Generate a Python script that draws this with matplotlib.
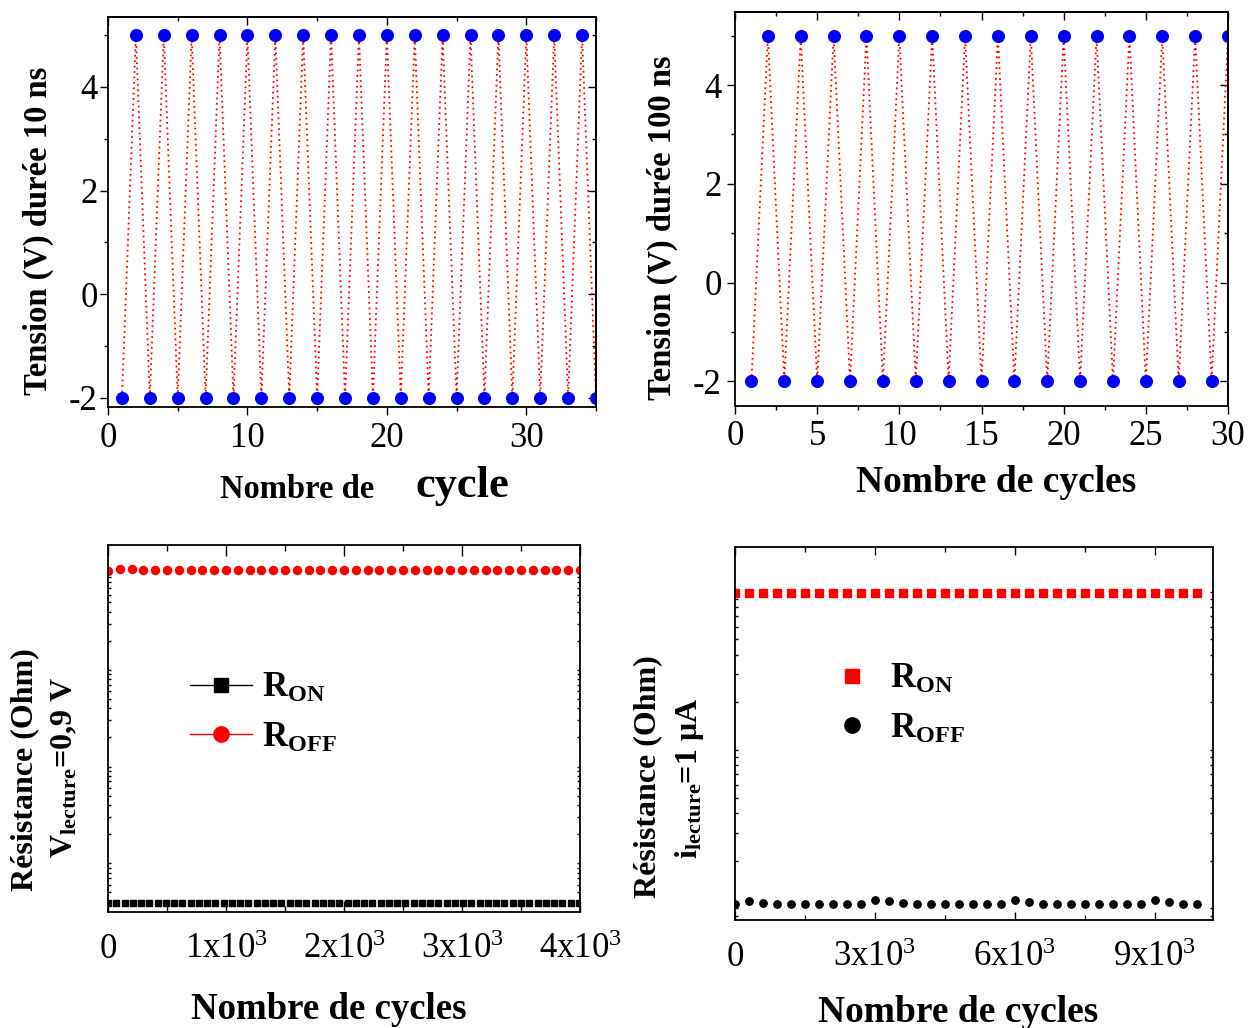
import numpy as np
import matplotlib
matplotlib.use("Agg")
import matplotlib.pyplot as plt
from matplotlib.lines import Line2D
from matplotlib.ticker import MultipleLocator, LogLocator, NullFormatter

plt.rcParams["font.family"] = ["Liberation Serif", "DejaVu Serif"]
plt.rcParams["mathtext.fontset"] = "custom"
plt.rcParams["mathtext.rm"] = "Liberation Serif"
plt.rcParams["mathtext.it"] = "Liberation Serif:italic"
plt.rcParams["mathtext.bf"] = "Liberation Serif:bold"
plt.rcParams["axes.unicode_minus"] = False

# --- data -------------------------------------------------------------
# pulse train, 10 ns pulses
cycles_10ns = list(range(1, 36))
tension_10ns = [-2, 5, -2, 5, -2, 5, -2, 5, -2, 5, -2, 5, -2, 5, -2, 5, -2, 5,
                -2, 5, -2, 5, -2, 5, -2, 5, -2, 5, -2, 5, -2, 5, -2, 5, -2]

# pulse train, 100 ns pulses
cycles_100ns = list(range(1, 31))
tension_100ns = [-2, 5, -2, 5, -2, 5, -2, 5, -2, 5, -2, 5, -2, 5, -2, 5, -2, 5,
                 -2, 5, -2, 5, -2, 5, -2, 5, -2, 5, -2, 5]

# endurance, read at 0.9 V
cycles_roff_v = np.arange(0, 4001, 100)
r_off_v = [1.04e6, 1.10e6, 1.10e6, 1.08e6, 1.07e6, 1.07e6, 1.07e6, 1.07e6,
           1.07e6, 1.07e6, 1.07e6, 1.07e6, 1.07e6, 1.07e6, 1.07e6, 1.07e6,
           1.07e6, 1.07e6, 1.07e6, 1.07e6, 1.07e6, 1.07e6, 1.07e6, 1.07e6,
           1.07e6, 1.07e6, 1.07e6, 1.07e6, 1.07e6, 1.07e6, 1.07e6, 1.07e6,
           1.07e6, 1.07e6, 1.07e6, 1.07e6, 1.07e6, 1.07e6, 1.07e6, 1.07e6,
           1.07e6]
cycles_ron_v = np.arange(0, 4000, 70)
r_on_v = [390, 390, 390, 390, 390, 390, 390, 390, 390, 390, 390, 390, 390,
          390, 390, 390, 390, 390, 390, 390, 390, 390, 390, 390, 390, 390,
          390, 390, 390, 390, 390, 390, 390, 390, 390, 390, 390, 390, 390,
          390, 390, 390, 390, 390, 390, 390, 390, 390, 390, 390, 390, 390,
          390, 390, 390, 390, 390, 390]

# endurance, read at 1 uA
cycles_i = np.arange(0, 10000, 300)
r_on_i = [9.8e4, 9.8e4, 9.8e4, 9.8e4, 9.8e4, 9.8e4, 9.8e4, 9.8e4, 9.8e4,
          9.8e4, 9.8e4, 9.8e4, 9.8e4, 9.8e4, 9.8e4, 9.8e4, 9.8e4, 9.8e4,
          9.8e4, 9.8e4, 9.8e4, 9.8e4, 9.8e4, 9.8e4, 9.8e4, 9.8e4, 9.8e4,
          9.8e4, 9.8e4, 9.8e4, 9.8e4, 9.8e4, 9.8e4, 9.8e4]
r_off_i = [1070, 1110, 1080, 1070, 1070, 1070, 1070, 1070, 1070, 1070,
           1135, 1110, 1080, 1070, 1070, 1070, 1070, 1070, 1070, 1070,
           1135, 1100, 1070, 1070, 1070, 1070, 1070, 1070, 1070, 1070,
           1135, 1100, 1070, 1070]

W, H = 1248, 1028


def box(l, t, r, b):
    return [l / W, 1 - b / H, (r - l) / W, (b - t) / H]


def px(x, y):
    return x / W, 1 - y / H


fig = plt.figure(figsize=(W / 100, H / 100), dpi=100)

TICK = 25
LW = 1.3


def style_top(ax, xmaj, xmin, ypad, xpad):
    for s in ax.spines.values():
        s.set_linewidth(LW)
    ax.xaxis.set_major_locator(MultipleLocator(xmaj))
    ax.xaxis.set_minor_locator(MultipleLocator(xmin))
    ax.yaxis.set_major_locator(MultipleLocator(2))
    ax.yaxis.set_minor_locator(MultipleLocator(1))
    ax.tick_params(which="both", direction="out", top=False, right=False,
                   labelsize=TICK, width=1.0)
    ax.tick_params(which="major", length=5.5)
    ax.tick_params(which="minor", length=3)
    ax.tick_params(axis="y", pad=ypad)
    ax.tick_params(axis="x", pad=xpad)
    # mirrored ticks pointing inward
    sx = ax.secondary_xaxis("top")
    sx.xaxis.set_major_locator(MultipleLocator(xmaj))
    sx.xaxis.set_minor_locator(MultipleLocator(xmin))
    sx.xaxis.set_major_formatter(NullFormatter())
    sx.tick_params(which="both", direction="in", width=1.0)
    sx.tick_params(which="major", length=5.5)
    sx.tick_params(which="minor", length=3)
    sy = ax.secondary_yaxis("right")
    sy.yaxis.set_major_locator(MultipleLocator(2))
    sy.yaxis.set_minor_locator(MultipleLocator(1))
    sy.yaxis.set_major_formatter(NullFormatter())
    sy.tick_params(which="both", direction="in", width=1.0)
    sy.tick_params(which="major", length=5.5)
    sy.tick_params(which="minor", length=3)
    for a in (sx, sy):
        for s in a.spines.values():
            s.set_linewidth(LW)


def style_bottom(ax, xmajlen, xminlen, xpad):
    for s in ax.spines.values():
        s.set_linewidth(LW)
    ax.set_yscale("log")
    ax.yaxis.set_major_locator(LogLocator(base=10, numticks=20))
    ax.yaxis.set_minor_locator(LogLocator(base=10, subs=np.arange(2, 10), numticks=100))
    ax.yaxis.set_major_formatter(NullFormatter())
    ax.yaxis.set_minor_formatter(NullFormatter())
    ax.tick_params(which="both", direction="in", top=True, right=True,
                   labelsize=TICK, width=1.0)
    ax.tick_params(axis="y", which="both", length=2.5)
    ax.tick_params(axis="x", which="major", length=xmajlen, pad=xpad)
    ax.tick_params(axis="x", which="minor", length=xminlen)


# --- top left: 10 ns --------------------------------------------------
ax1 = fig.add_axes(box(108, 17, 596, 407))
ax1.plot(cycles_10ns, tension_10ns, ls=(0, (1, 2)), lw=1.3, color="red",
         marker="o", ms=8.4, mfc="blue", mec="blue")
ax1.set_xlim(0, 35)
ax1.set_ylim(-2.18, 5.35)
style_top(ax1, 10, 5, 2, 5)
ax1.set_yticks([-2, 0, 2, 4])
ax1.set_yticklabels(["-2", "0", "2", "4"])
fig.text(*px(38, 231), "Tension (V) durée 10 ns", rotation=90, ha="center",
         va="center", fontsize=23.5, fontweight="bold")
fig.text(*px(297, 498), "Nombre de", ha="center", va="baseline",
         fontsize=23.5, fontweight="bold")
fig.text(*px(462, 497), "cycle", ha="center", va="baseline",
         fontsize=32, fontweight="bold")

# --- top right: 100 ns ------------------------------------------------
ax2 = fig.add_axes(box(735, 12, 1228, 406))
ax2.plot(cycles_100ns, tension_100ns, ls=(0, (1, 2)), lw=1.3, color="red",
         marker="o", ms=8.4, mfc="blue", mec="blue")
ax2.set_xlim(0, 30)
ax2.set_ylim(-2.5, 5.48)
style_top(ax2, 5, 2.5, 4, 4.5)
ax2.set_yticks([-2, 0, 2, 4])
ax2.set_yticklabels(["-2", "0", "2", "4"])
fig.text(*px(662, 228), "Tension (V) durée 100 ns", rotation=90, ha="center",
         va="center", fontsize=23.5, fontweight="bold")
fig.text(*px(996, 492), "Nombre de cycles", ha="center", va="baseline",
         fontsize=27, fontweight="bold")

# --- bottom left: V read 0.9 V ----------------------------------------
ax3 = fig.add_axes(box(108, 545, 580, 912))
ax3.plot(cycles_ron_v, r_on_v, "s", color="black", ms=5)
ax3.plot(cycles_roff_v, r_off_v, "o", color="red", ms=5.8)
ax3.set_xlim(0, 4000)
ax3.set_ylim(10 ** 2.496, 10 ** 6.29)
style_bottom(ax3, 8, 4.5, 15)
ax3.set_xticks([0, 1000, 2000, 3000, 4000])
ax3.set_xticklabels(["0", "1x10$^{3}$", "2x10$^{3}$", "3x10$^{3}$", "4x10$^{3}$"])
ax3.xaxis.set_minor_locator(MultipleLocator(500))
leg_h3 = [Line2D([], [], color="black", lw=1, marker="s", ms=10.5),
          Line2D([], [], color="red", lw=1, marker="o", ms=11)]
ax3.legend(leg_h3, [r"R$_{\mathbf{ON}}$", r"R$_{\mathbf{OFF}}$"],
           loc="upper left", bbox_to_anchor=(0.174, 0.655), frameon=False,
           prop={"size": 25, "weight": "bold"}, handlelength=1.77,
           handletextpad=0.3, labelspacing=0.48, borderpad=0, borderaxespad=0)
fig.text(*px(25, 770), "Résistance (Ohm)", rotation=90, ha="center",
         va="center", fontsize=23, fontweight="bold")
fig.text(*px(65, 767), r"V$_{\mathbf{lecture}}$=0,9 V", rotation=90,
         ha="center", va="center", fontsize=23, fontweight="bold")
fig.text(*px(329, 1019), "Nombre de cycles", ha="center", va="baseline",
         fontsize=26.5, fontweight="bold")

# --- bottom right: I read 1 uA ----------------------------------------
ax4 = fig.add_axes(box(735, 547, 1213, 920))
ax4.plot(cycles_i, r_on_i, "s", color="red", ms=5.3)
ax4.plot(cycles_i, r_off_i, "o", color="black", ms=5.3)
ax4.set_xlim(0, 10250)
ax4.set_ylim(10 ** 2.926, 10 ** 5.282)
style_bottom(ax4, 6, 3.5, 15)
ax4.set_xticks([0, 3000, 6000, 9000])
ax4.set_xticklabels(["0", "3x10$^{3}$", "6x10$^{3}$", "9x10$^{3}$"])
ax4.xaxis.set_minor_locator(MultipleLocator(1500))
leg_h4 = [Line2D([], [], color="red", ls="none", marker="s", ms=10.5),
          Line2D([], [], color="black", ls="none", marker="o", ms=11)]
ax4.legend(leg_h4, [r"R$_{\mathbf{ON}}$", r"R$_{\mathbf{OFF}}$"],
           loc="upper left", bbox_to_anchor=(0.208, 0.69), frameon=False,
           prop={"size": 25, "weight": "bold"}, handlelength=1.0,
           handletextpad=0.6, labelspacing=0.48, borderpad=0, borderaxespad=0)
fig.text(*px(648, 777), "Résistance (Ohm)", rotation=90, ha="center",
         va="center", fontsize=23, fontweight="bold")
fig.text(*px(690, 778), r"i$_{\mathbf{lecture}}$=1 μA", rotation=90,
         ha="center", va="center", fontsize=23, fontweight="bold")
fig.text(*px(958, 1022), "Nombre de cycles", ha="center", va="baseline",
         fontsize=27, fontweight="bold")

fig.savefig("out.png", dpi=100)
